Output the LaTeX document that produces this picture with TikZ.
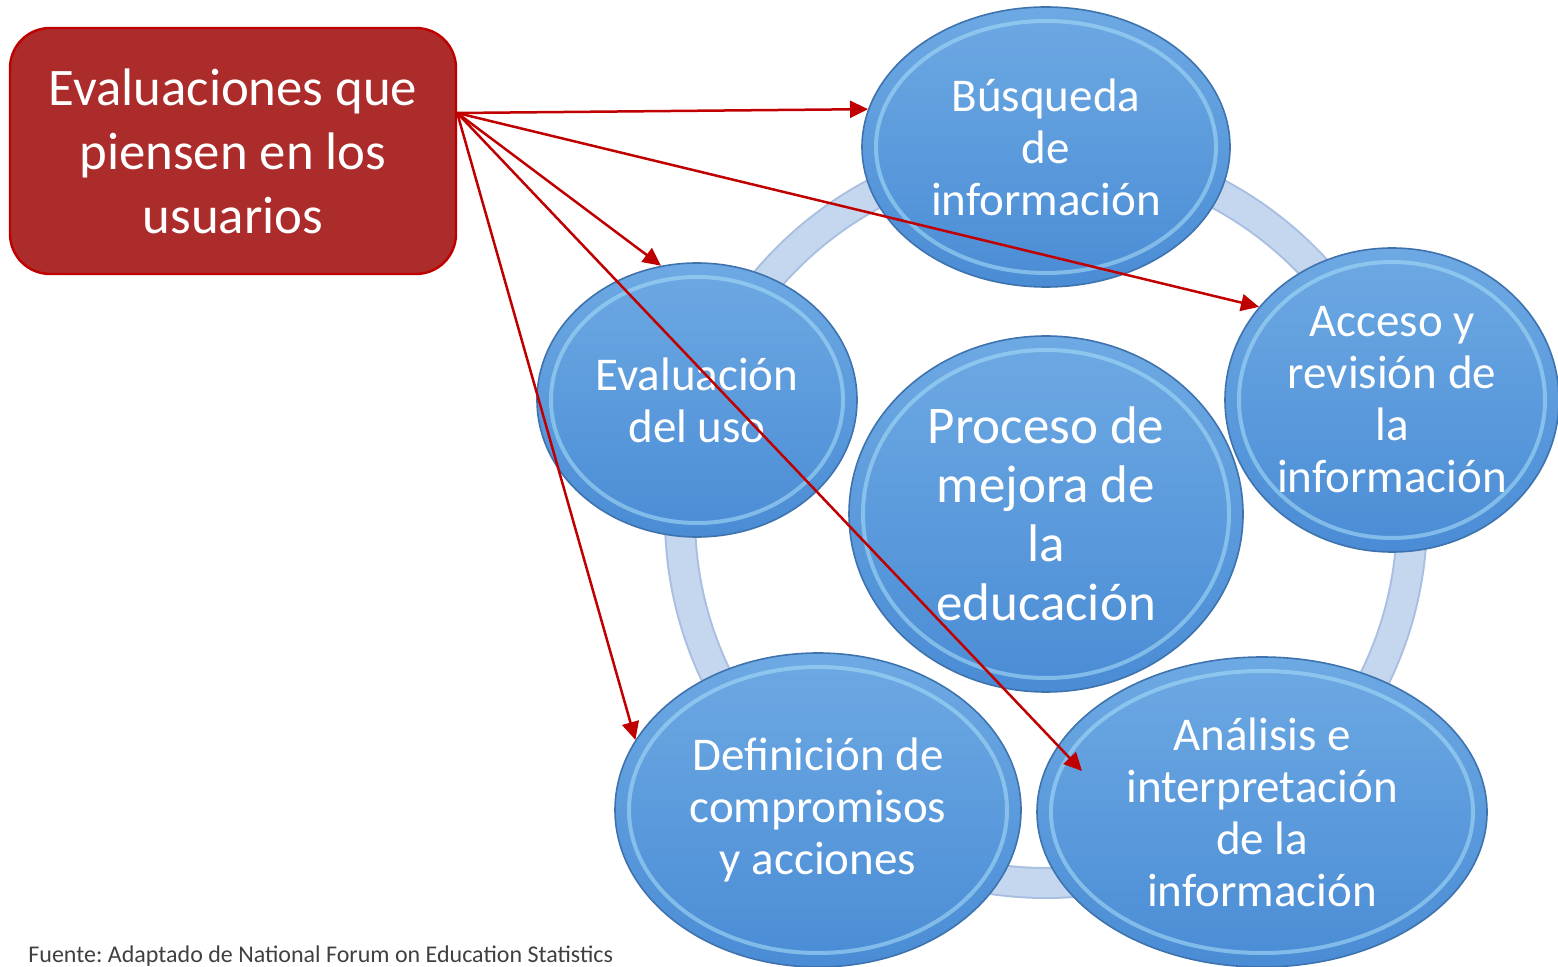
\documentclass[tikz,border=0pt]{standalone}
\usepackage{fontspec}
\setmainfont{Carlito}
\frenchspacing
\usetikzlibrary{shapes,arrows.meta,calc}
\definecolor{usersfill}{HTML}{AC2B2B}
\definecolor{usersedge}{HTML}{C00000}
\definecolor{arrowred}{HTML}{C00000}
\definecolor{stagetop}{HTML}{6DA9E3}
\definecolor{stagebot}{HTML}{4A8CD5}
\definecolor{stageedge}{HTML}{3E73AE}
\definecolor{stagerim}{HTML}{A3DAF6}
\definecolor{ringfill}{HTML}{C5D6EF}
\definecolor{ringedge}{HTML}{A9BFE1}
\definecolor{notegray}{HTML}{404040}
\tikzset{users/.style={draw=usersedge, fill=usersfill, rectangle, rounded corners=20pt, line width=1.2pt, text=white, align=center, font=\fontsize{26.4}{32}\selectfont}}
\tikzset{stage/.style={draw=stageedge, ellipse, line width=0.8pt, top color=stagetop, bottom color=stagebot, text=white, align=center, inner sep=0pt, font=\fontsize{23.5}{26}\selectfont,
  path picture={\draw[stagerim, line width=2pt, draw opacity=0.6] let \p1=(path picture bounding box.north east), \p2=(path picture bounding box.center) in (\p2) ellipse ({\x1-\x2-7pt} and {\y1-\y2-7pt});}}}
\tikzset{ring/.style={draw=ringedge, line width=16pt}}
\tikzset{line/.style={draw, color=arrowred, line width=1.25pt, -{Triangle[length=9pt,width=8.5pt]}}}

\begin{document}
\begin{tikzpicture}[x=0.5pt, y=-0.5pt]
\useasboundingbox (0,0) rectangle (1558,967);

%RING
\coordinate (hub) at (1046,517);
\path [ring] (hub) circle [radius=183pt];
\path [ring, draw=ringfill, line width=14pt] (hub) circle [radius=183pt];

%STAGES
\node [stage, minimum width=184pt, minimum height=140pt] (busq) at (1046,147) {Búsqueda\\de\\información};
\node [stage, minimum width=167pt, minimum height=152pt] (acceso) at (1392,400) {Acceso y\\revisión de\\la\\información};
\node [stage, minimum width=160pt, minimum height=137pt] (eval) at (697,400) {Evaluación\\del uso};
\node [stage, minimum width=203pt, minimum height=157pt] (defin) at (818,810) {Definición de\\compromisos\\y acciones};
\node [stage, minimum width=225pt, minimum height=155pt] (analisis) at (1262,812) {Análisis e\\interpretación\\de la\\información};
\node [stage, minimum width=197pt, minimum height=178pt, font=\fontsize{26.5}{29.5}\selectfont] (proceso) at (1046,514) {Proceso de\\mejora de\\la\\educación};

%USERS BOX
\node [users, minimum width=223pt, minimum height=123pt] (users) at (233,151) {Evaluaciones que\\piensen en los\\usuarios};
\coordinate (src) at ($(users.east)+(0,-38)$);

%SOURCE NOTE
\node [anchor=base west, inner sep=0pt, text=notegray, font=\fontsize{12}{14}\selectfont] (fuente) at (28,962) {Fuente: Adaptado de National Forum on Education Statistics};

%ARROWS
\path [line] (src) -- (busq.168);
\path [line] (src) -- (acceso.145);
\path [line] (src) -- (eval.105);
\path [line] (src) -- (defin.159);
\path [line] (src) -- ($(analisis.center)+(-180,-41)$);

\end{tikzpicture}
\end{document}
